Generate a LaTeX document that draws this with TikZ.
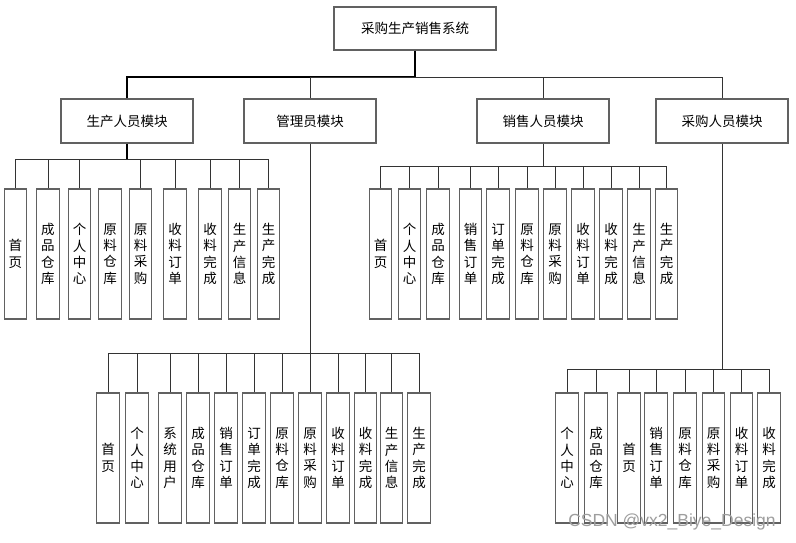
\documentclass[tikz,border=0pt]{standalone}
\usepackage{fontspec}
\newfontfamily\cjk{Noto Sans CJK SC}
\newfontfamily\wmfont{Liberation Sans}
\begin{document}
\begin{tikzpicture}[x=1pt,y=-1pt,
  box/.style={draw=black!62, line width=1.1pt, fill=white, inner sep=0pt,
    font=\cjk\fontsize{13.5}{16}\selectfont},
  topbox/.style={box, minimum width=162pt, minimum height=43pt},
  modbox/.style={box, minimum width=132pt, minimum height=44pt},
  leaf/.style={box, minimum width=22.5pt, minimum height=130pt, align=center,
    font=\cjk\fontsize{13.5}{16.3}\selectfont},
  link/.style={draw=black!80, line width=0.9pt},
  thick link/.style={draw=black, line width=1.8pt}]
\useasboundingbox (0,0) rectangle (796,543);

% top and modules
\node[topbox] (top) at (415,28.5) {采购生产销售系统};
\node[modbox] (m1) at (127,121) {生产人员模块};
\node[modbox] (m2) at (310,121) {管理员模块};
\node[modbox] (m3) at (543,121) {销售人员模块};
\node[modbox] (m4) at (722,121) {采购人员模块};
\coordinate (t) at (415,77);
\draw[thick link] (top.south) -- (t);
\draw[thick link] (m1.north) |- (t);
\draw[link] (m2.north) |- (t);
\draw[link] (m3.north) |- (t);
\draw[link] (m4.north) |- (t);

% 生产人员 group
\coordinate (b1) at (127,159);
\draw[thick link] (m1.south) -- (b1);
\foreach \x/\t [count=\i] in {15.5/{首\\页},48/{成\\品\\仓\\库},79.5/{个\\人\\中\\心},110/{原\\料\\仓\\库},140.5/{原\\料\\采\\购},175/{收\\料\\订\\单},210/{收\\料\\完\\成},239.5/{生\\产\\信\\息},268.5/{生\\产\\完\\成}}{
  \node[leaf] (p\i) at (\x,254) {\t};
  \ifnum\i=4\relax\else\draw[link] (p\i.north) |- (b1);\fi
}

% 销售人员 group
\coordinate (b3) at (543,166);
\draw[link] (m3.south) -- (b3);
\foreach \x/\t [count=\i] in {380.5/{首\\页},409.5/{个\\人\\中\\心},438/{成\\品\\仓\\库},470.5/{销\\售\\订\\单},498/{订\\单\\完\\成},527/{原\\料\\仓\\库},555/{原\\料\\采\\购},583/{收\\料\\订\\单},611/{收\\料\\完\\成},639/{生\\产\\信\\息},666.5/{生\\产\\完\\成}}{
  \node[leaf] (s\i) at (\x,254) {\t};
  \draw[link] (s\i.north) |- (b3);
}

% 管理员 group
\coordinate (b2) at (310,353);
\draw[link] (m2.south) -- (b2);
\foreach \x/\t [count=\i] in {108/{首\\页},137/{个\\人\\中\\心},170/{系\\统\\用\\户},198/{成\\品\\仓\\库},226/{销\\售\\订\\单},254/{订\\单\\完\\成},282/{原\\料\\仓\\库},310/{原\\料\\采\\购},338/{收\\料\\订\\单},365.5/{收\\料\\完\\成},391.5/{生\\产\\信\\息},419/{生\\产\\完\\成}}{
  \node[leaf] (a\i) at (\x,458) {\t};
  \draw[link] (a\i.north) |- (b2);
}

% 采购人员 group
\coordinate (b4) at (722,369);
\draw[link] (m4.south) -- (b4);
\foreach \x/\t [count=\i] in {567/{个\\人\\中\\心},596/{成\\品\\仓\\库},629/{首\\页},656/{销\\售\\订\\单},685/{原\\料\\仓\\库},713.5/{原\\料\\采\\购},741.5/{收\\料\\订\\单},769/{收\\料\\完\\成}}{
  \node[leaf] (c\i) at (\x,458) {\t};
  \draw[link] (c\i.north) |- (b4);
}

% watermark
\node[font=\wmfont\fontsize{17.5}{19}\selectfont, text=black!38] (wm) at (672,522) {CSDN @vx2\_Biye\_Design};
\end{tikzpicture}
\end{document}
